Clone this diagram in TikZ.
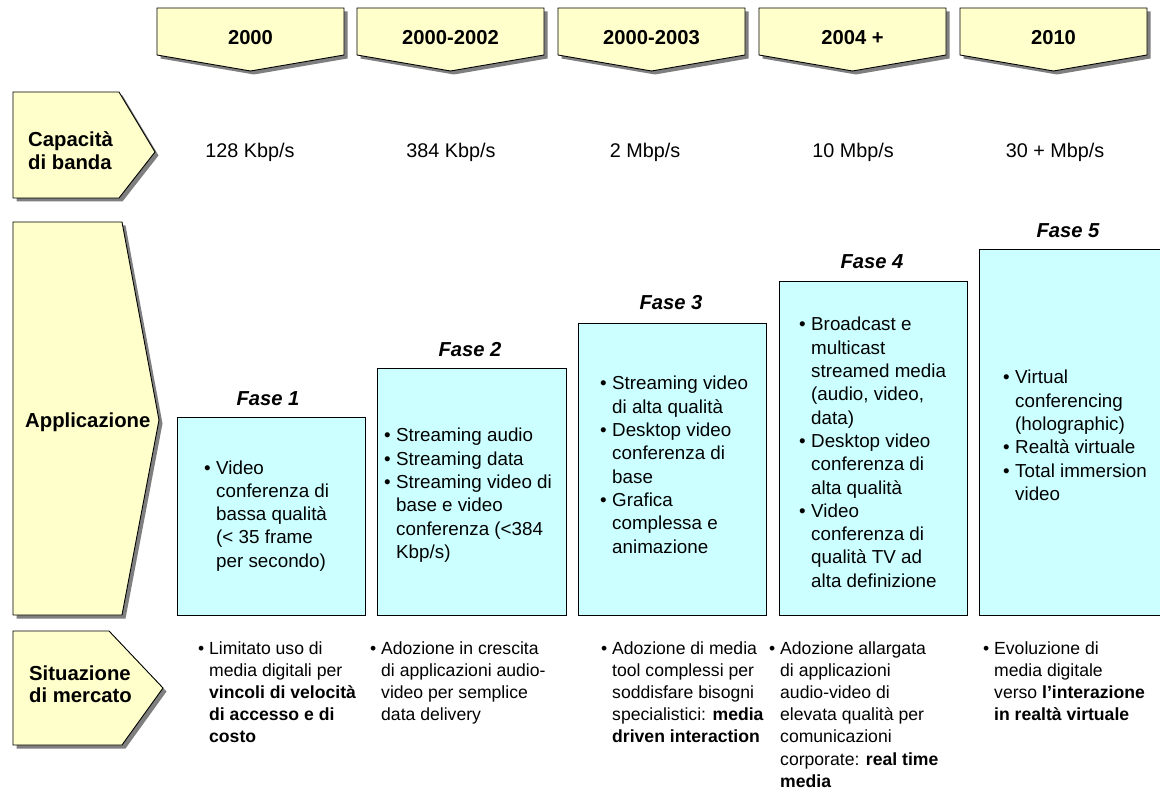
\documentclass[tikz,border=0pt]{standalone}
\usepackage{fontspec}
\setmainfont{Liberation Sans}
\usepackage{array}
\definecolor{ylw}{HTML}{FFFFCC}
\definecolor{cyn}{HTML}{CCFFFF}
\definecolor{shd}{HTML}{7F7F7F}
\newcommand{\bu}{\textbullet}
\newcommand{\boxfont}{\fontsize{18.8pt}{23.3pt}\selectfont}
\newcommand{\mktfont}{\fontsize{17.6pt}{22.2pt}\selectfont}
\newenvironment{blist}{\begin{tabular}[t]{@{}p{12pt}@{}l@{}}}{\end{tabular}}
\newenvironment{mlist}{\begin{tabular}[t]{@{}p{11pt}@{}l@{}}}{\end{tabular}}
\tikzset{
  yshape/.style={draw=black, line width=0.9pt, fill=ylw, line join=miter},
  shadowshape/.style={fill=shd, shift={(3.5,3.5)}},
  cbox/.style={draw=black, line width=0.9pt, fill=cyn},
  hdrtext/.style={font=\fontsize{20.2pt}{22pt}\selectfont\bfseries, inner sep=0, anchor=base},
  lbltext/.style={font=\fontsize{20.3pt}{22.3pt}\selectfont\bfseries, inner sep=0, anchor=base west},
  bwtext/.style={font=\fontsize{19.8pt}{22pt}\selectfont, inner sep=0, anchor=base},
  fasetext/.style={font=\fontsize{20.2pt}{22pt}\selectfont\bfseries\itshape, inner sep=0, anchor=base},
  boxtext/.style={font=\boxfont, inner sep=0, anchor=base west},
  mkttext/.style={font=\mktfont, inner sep=0, anchor=base west},
}
\begin{document}
\begin{tikzpicture}[x=1pt,y=-1pt]
\useasboundingbox (0,0) rectangle (1160,794);
\fill[white] (0,0) rectangle (1160,794);

% header arrows
\foreach \L/\t/\n in {157/2000/h1, 357/2000-2002/h2, 558/2000-2003/h3, 759/2004 +/h4, 960/2010/h5}{
  \pgfmathsetmacro{\R}{\L+187}
  \pgfmathsetmacro{\M}{\L+93.5}
  \fill[shadowshape] (\L,8) -- (\R,8) -- (\R,55) -- (\M,71) -- (\L,55) -- cycle;
  \draw[yshape] (\L,8) -- (\R,8) -- (\R,55) -- (\M,71) -- (\L,55) -- cycle;
  \node[hdrtext] (\n) at (\M,45) {\t};
}

% left label shapes
\fill[shadowshape] (13,92) -- (119,92) -- (155,152) -- (119,198) -- (13,198) -- cycle;
\draw[yshape] (13,92) -- (119,92) -- (155,152) -- (119,198) -- (13,198) -- cycle;
\node[lbltext] (capl) at (28,147) {\begin{tabular}[t]{@{}l@{}}Capacità\\di banda\end{tabular}};

\fill[shadowshape] (13,222) -- (122,222) -- (159,420) -- (122,615) -- (13,615) -- cycle;
\draw[yshape] (13,222) -- (122,222) -- (159,420) -- (122,615) -- (13,615) -- cycle;
\node[lbltext] (appl) at (25,428) {Applicazione};

\fill[shadowshape] (13,631) -- (109,631) -- (163,688) -- (122,745) -- (13,745) -- cycle;
\draw[yshape] (13,631) -- (109,631) -- (163,688) -- (122,745) -- (13,745) -- cycle;
\node[lbltext] (sitl) at (29,680) {\begin{tabular}[t]{@{}l@{}}Situazione\\di mercato\end{tabular}};

% bandwidth
\node[bwtext] (bw1) at (250,158) {128 Kbp/s};
\node[bwtext] (bw2) at (451,158) {384 Kbp/s};
\node[bwtext] (bw3) at (645,158) {2 Mbp/s};
\node[bwtext] (bw4) at (853,158) {10 Mbp/s};
\node[bwtext] (bw5) at (1055,158) {30 + Mbp/s};

% phase boxes
\draw[cbox] (177,417) rectangle (365,615);
\draw[cbox] (377,368) rectangle (566,615);
\draw[cbox] (578,323) rectangle (766,615);
\draw[cbox] (779,281) rectangle (967,615);
\draw[cbox] (979,249) rectangle (1163,615);

\node[fasetext] (f1) at (268,406) {Fase 1};
\node[fasetext] (f2) at (470,357) {Fase 2};
\node[fasetext] (f3) at (671,310) {Fase 3};
\node[fasetext] (f4) at (872,269) {Fase 4};
\node[fasetext] (f5) at (1068,238) {Fase 5};

\node[boxtext] (t1) at (204,474) {\begin{blist}
\bu & Video\\
 & conferenza di\\
 & bassa qualità\\
 & (< 35 frame\\
 & per secondo)
\end{blist}};

\node[boxtext] (t2) at (384,442) {\begin{blist}
\bu & Streaming audio\\
\bu & Streaming data\\
\bu & Streaming video di\\
 & base e video\\
 & conferenza (<384\\
 & Kbp/s)
\end{blist}};

\node[boxtext] (t3) at (600,390) {\begin{blist}
\bu & Streaming video\\
 & di alta qualità\\
\bu & Desktop video\\
 & conferenza di\\
 & base\\
\bu & Grafica\\
 & complessa e\\
 & animazione
\end{blist}};

\node[boxtext] (t4) at (799,331) {\begin{blist}
\bu & Broadcast e\\
 & multicast\\
 & streamed media\\
 & (audio, video,\\
 & data)\\
\bu & Desktop video\\
 & conferenza di\\
 & alta qualità\\
\bu & Video\\
 & conferenza di\\
 & qualità TV ad\\
 & alta definizione
\end{blist}};

\node[boxtext] (t5) at (1003,384) {\begin{blist}
\bu & Virtual\\
 & conferencing\\
 & (holographic)\\
\bu & Realtà virtuale\\
\bu & Total immersion\\
 & video
\end{blist}};

% market texts
\node[mkttext] (m1) at (198,654) {\begin{mlist}
\bu & Limitato uso di\\
 & media digitali per\\
 & \textbf{vincoli di velocità}\\
 & \textbf{di accesso e di}\\
 & \textbf{costo}
\end{mlist}};

\node[mkttext] (m2) at (370,654) {\begin{mlist}
\bu & Adozione in crescita\\
 & di applicazioni audio-\\
 & video per semplice\\
 & data delivery
\end{mlist}};

\node[mkttext] (m3) at (601,654) {\begin{mlist}
\bu & Adozione di media\\
 & tool complessi per\\
 & soddisfare bisogni\\
 & specialistici: \textbf{media}\\
 & \textbf{driven interaction}
\end{mlist}};

\node[mkttext] (m4) at (769,654) {\begin{mlist}
\bu & Adozione allargata\\
 & di applicazioni\\
 & audio-video di\\
 & elevata qualità per\\
 & comunicazioni\\
 & corporate: \textbf{real time}\\
 & \textbf{media}
\end{mlist}};

\node[mkttext] (m5) at (983,654) {\begin{mlist}
\bu & Evoluzione di\\
 & media digitale\\
 & verso \textbf{l’interazione}\\
 & \textbf{in realtà virtuale}
\end{mlist}};
\end{tikzpicture}
\end{document}
